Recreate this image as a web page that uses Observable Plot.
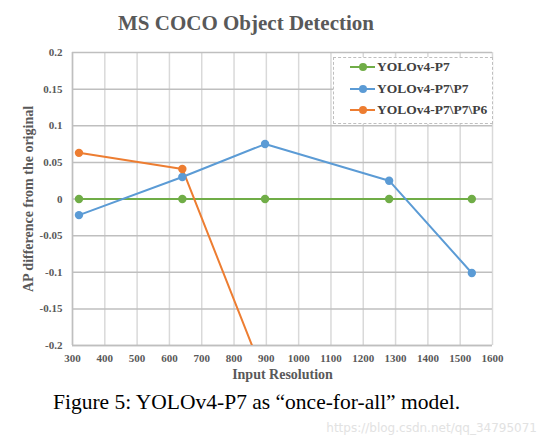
<!DOCTYPE html>
<html><head><meta charset="utf-8">
<script src="https://cdn.jsdelivr.net/npm/d3@7"></script>
<script src="https://cdn.jsdelivr.net/npm/@observablehq/plot@0.6"></script>
<style>
body{margin:0;background:#fff;width:545px;height:445px;position:relative;overflow:hidden;font-family:"Liberation Serif",serif}
#title{position:absolute;left:0;width:492px;top:11px;text-align:center;font-weight:bold;font-size:21px;color:#595959}
#chart{position:absolute;left:0;top:0}
#legend{position:absolute;left:333px;top:57px;width:158px;height:65px;background:#fff;border:1px dashed #bfbfbf;font-weight:bold;font-size:13.5px;color:#404040}
.item{position:absolute;left:16px;height:14px;display:flex;align-items:center}
.sw{position:relative;width:25px;height:14px;margin-right:2px}
.sw .ln{position:absolute;left:0;top:6px;width:25px;height:2px}
.sw .dt{position:absolute;left:8.5px;top:3px;width:8px;height:8px;border-radius:50%}
#caption{position:absolute;left:53px;top:390px;font-size:21.5px;color:#000;white-space:nowrap}
#wm{position:absolute;right:8px;top:421px;font-family:"DejaVu Sans",sans-serif;font-size:12px;color:#e2e2e2;white-space:nowrap}
</style></head><body>
<div id="chart"></div>
<div id="title">MS COCO Object Detection</div>
<div id="legend"></div>
<div id="wm">https://blog.csdn.net/qq_34795071</div>
<div id="caption">Figure 5: YOLOv4-P7 as “once-for-all” model.</div>
<script>
const seriesNames = ["YOLOv4-P7", "YOLOv4-P7\\P7", "YOLOv4-P7\\P7\\P6"];
const seriesColors = ["#70ad47", "#5b9bd5", "#ed7d31"];
const resP7 = [320, 640, 896, 1280, 1536];
const apP7 = [0, 0, 0, 0, 0];
const resP7P7 = [320, 640, 896, 1280, 1536];
const apP7P7 = [-0.022, 0.030, 0.075, 0.025, -0.101];
const resP7P7P6 = [320, 640, 896];
const apP7P7P6 = [0.063, 0.041, -0.245];
const xTicks = [300,400,500,600,700,800,900,1000,1100,1200,1300,1400,1500,1600];
const yTicks = [-0.2,-0.15,-0.1,-0.05,0,0.05,0.1,0.15,0.2];

const data = [];
[[resP7, apP7], [resP7P7, apP7P7], [resP7P7P6, apP7P7P6]].forEach(([xs, ys], i) => {
  xs.forEach((x, j) => data.push({series: seriesNames[i], x, y: ys[j]}));
});

const fmt = d => String(+d.toFixed(2));
const plot = Plot.plot({
  width: 545, height: 390,
  marginLeft: 72, marginRight: 53, marginTop: 52, marginBottom: 45,
  style: {fontFamily: "Liberation Serif, serif", fontWeight: "bold", fontSize: "11px", color: "#595959", background: "transparent"},
  x: {domain: [300, 1600], ticks: xTicks, tickSize: 0, tickPadding: 9, tickFormat: fmt, label: null},
  y: {domain: [-0.2, 0.2], ticks: yTicks, tickSize: 0, tickPadding: 10, tickFormat: fmt, label: null},
  color: {domain: seriesNames, range: seriesColors},
  marks: [
    Plot.gridX(xTicks, {stroke: "#d9d9d9", strokeOpacity: 1, strokeWidth: 1.5}),
    Plot.gridY(yTicks, {stroke: "#bfbfbf", strokeOpacity: 1, strokeWidth: 1.5}),
    Plot.ruleX([300], {stroke: "#bfbfbf", strokeWidth: 1.5}),
    Plot.ruleY([-0.2], {stroke: "#bfbfbf", strokeWidth: 1.5}),
    Plot.axisX({ticks: xTicks, tickSize: 0, tickPadding: 9, tickFormat: fmt, label: null}),
    Plot.axisY({ticks: yTicks, tickSize: 0, tickPadding: 10, tickFormat: fmt, label: null}),
    Plot.line(data, {x: "x", y: "y", z: "series", stroke: "series", strokeWidth: 2, clip: true}),
    Plot.dot(data, {x: "x", y: "y", fill: "series", r: 4.2, clip: true}),
    Plot.text(["Input Resolution"], {frameAnchor: "bottom", dy: 33, fontSize: 14, fill: "#595959", fontWeight: "bold"}),
    Plot.text(["AP difference from the original"], {frameAnchor: "left", textAnchor: "middle", dx: -44, rotate: -90, fontSize: 14, fill: "#595959", fontWeight: "bold"})
  ]
});
document.getElementById("chart").appendChild(plot);

const leg = document.getElementById("legend");
seriesNames.forEach((name, i) => {
  const it = document.createElement("div");
  it.className = "item";
  it.style.top = (2 + i * 21.5) + "px";
  it.innerHTML = `<span class="sw"><span class="ln" style="background:${seriesColors[i]}"></span><span class="dt" style="background:${seriesColors[i]}"></span></span><span>${name}</span>`;
  leg.appendChild(it);
});
</script>
</body></html>
